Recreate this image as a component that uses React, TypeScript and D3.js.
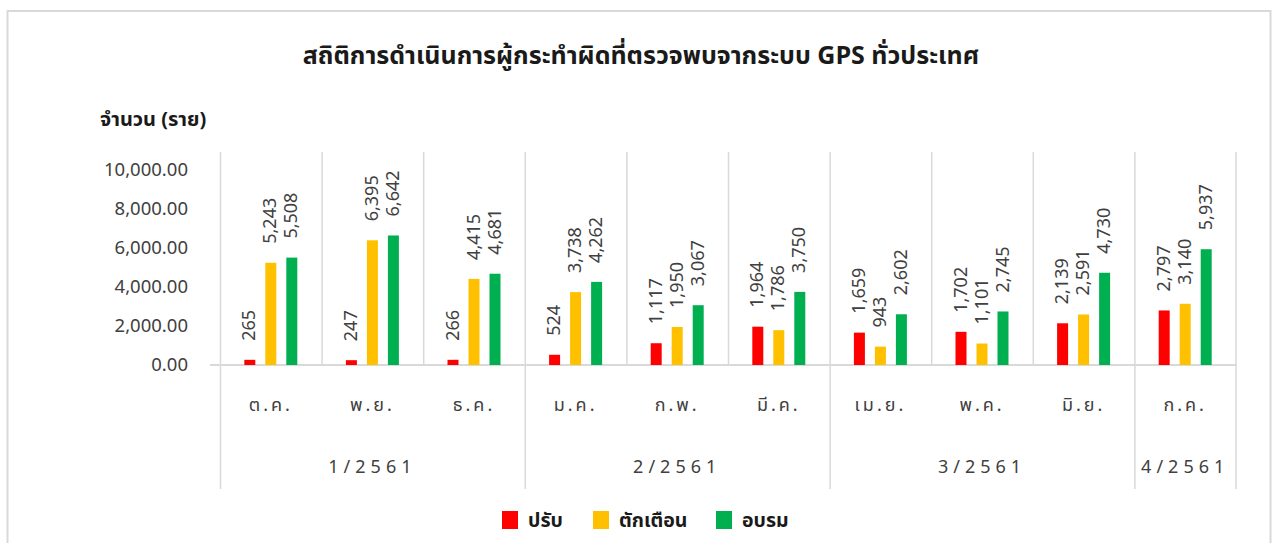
import React from "react";
import * as d3 from "d3";

const months = ["ต.ค.", "พ.ย.", "ธ.ค.", "ม.ค.", "ก.พ.", "มี.ค.", "เม.ย.", "พ.ค.", "มิ.ย.", "ก.ค."];
const quarters = ["1/2561", "2/2561", "3/2561", "4/2561"];
const quarterSizes = [3, 3, 3, 1];
const seriesNames = ["ปรับ", "ตักเตือน", "อบรม"];
const seriesColors = ["#FF0000", "#FFC000", "#00B050"];
const fineValues = [265, 247, 266, 524, 1117, 1964, 1659, 1702, 2139, 2797];
const warnValues = [5243, 6395, 4415, 3738, 1950, 1786, 943, 1101, 2591, 3140];
const trainValues = [5508, 6642, 4681, 4262, 3067, 3750, 2602, 2745, 4730, 5937];
const yTicks = [0, 2000, 4000, 6000, 8000, 10000];

const W = 1272;
const H = 543;
const left = 220;
const right = 1236;
const plotTop = 152;
const baseY = 365;
const catBottom = 489;

const FONT = "Tahoma, 'Noto Sans Thai', 'Noto Sans', sans-serif";

export default function App() {
  const series = [fineValues, warnValues, trainValues];
  const x = d3.scaleBand<string>().domain(months).range([left, right]).padding(0);
  const xi = d3
    .scaleBand<number>()
    .domain([0, 1, 2])
    .range([-26.5, 26.5])
    .paddingInner(10 / 21)
    .paddingOuter(0);
  const y = d3.scaleLinear().domain([0, 10000]).range([baseY, 170]);
  const fmtY = d3.format(",.2f");
  const fmtV = d3.format(",");

  let acc = 0;
  const qBounds: { start: number; end: number; label: string }[] = [];
  quarterSizes.forEach((n, i) => {
    const s = x(months[acc])!;
    const e = x(months[acc + n - 1])! + x.bandwidth();
    qBounds.push({ start: s, end: e, label: quarters[i] });
    acc += n;
  });

  const legendItems = [
    { x: 502, tx: 528 },
    { x: 593, tx: 619 },
    { x: 716, tx: 742 },
  ];

  return (
    <svg
      width={W}
      height={H}
      style={{ position: "absolute", left: 0, top: 0, background: "#fff" }}
      fontFamily={FONT}
    >
      <rect x={7.5} y={11} width={1263} height={540} fill="#fff" stroke="#D9D9D9" strokeWidth={2} />
      <text x={641} y={64} textAnchor="middle" fontSize={25} fontWeight="bold" fill="#1a1a1a">
        สถิติการดำเนินการผู้กระทำผิดที่ตรวจพบจากระบบ GPS ทั่วประเทศ
      </text>
      <text x={100} y={126} fontSize={20} fontWeight="bold" fill="#1a1a1a">
        จำนวน (ราย)
      </text>

      {yTicks.map((t) => (
        <text key={t} x={188} y={y(t)} dy="0.35em" textAnchor="end" fontSize={18.5} fill="#404040">
          {fmtY(t)}
        </text>
      ))}

      {months.map((m) => (
        <line
          key={"v" + m}
          x1={x(m)! + 0.5}
          x2={x(m)! + 0.5}
          y1={plotTop}
          y2={baseY}
          stroke="#D9D9D9"
          strokeWidth={1.5}
        />
      ))}
      <line x1={right} x2={right} y1={plotTop} y2={baseY} stroke="#D9D9D9" strokeWidth={1.5} />

      {qBounds.map((q) => (
        <line key={"qb" + q.label} x1={q.start + 0.5} x2={q.start + 0.5} y1={baseY} y2={catBottom} stroke="#D9D9D9" strokeWidth={1.5} />
      ))}
      <line x1={right} x2={right} y1={baseY} y2={catBottom} stroke="#D9D9D9" strokeWidth={1.5} />

      <line x1={210} x2={right} y1={baseY} y2={baseY} stroke="#D9D9D9" strokeWidth={2} />

      {series.map((vals, si) =>
        vals.map((v, i) => {
          const cx = x(months[i])! + x.bandwidth() / 2;
          const bx = cx + xi(si)!;
          return (
            <rect
              key={"b" + si + "-" + i}
              x={bx}
              y={y(v)}
              width={xi.bandwidth()}
              height={baseY - y(v)}
              fill={seriesColors[si]}
            />
          );
        })
      )}

      {series.map((vals, si) =>
        vals.map((v, i) => {
          const cx = x(months[i])! + x.bandwidth() / 2 + xi(si)! + xi.bandwidth() / 2;
          const ty = y(v) - 19;
          return (
            <text
              key={"l" + si + "-" + i}
              transform={`translate(${cx},${ty}) rotate(-90)`}
              dominantBaseline="central"
              fontSize={18}
              fill="#404040"
            >
              {fmtV(v)}
            </text>
          );
        })
      )}

      {months.map((m) => (
        <text
          key={"m" + m}
          x={x(m)! + x.bandwidth() / 2}
          y={411}
          textAnchor="middle"
          fontSize={18}
          letterSpacing={3}
          fill="#404040"
        >
          {m}
        </text>
      ))}

      {qBounds.map((q) => (
        <text
          key={"q" + q.label}
          x={(q.start + q.end) / 2}
          y={473}
          textAnchor="middle"
          fontSize={18}
          letterSpacing={5}
          fill="#404040"
        >
          {q.label}
        </text>
      ))}

      {seriesNames.map((n, i) => (
        <g key={"lg" + n}>
          <rect x={legendItems[i].x} y={511} width={16} height={18} fill={seriesColors[i]} />
          <text x={legendItems[i].tx} y={527} fontSize={19.5} fontWeight="bold" fill="#1a1a1a">
            {n}
          </text>
        </g>
      ))}
    </svg>
  );
}
